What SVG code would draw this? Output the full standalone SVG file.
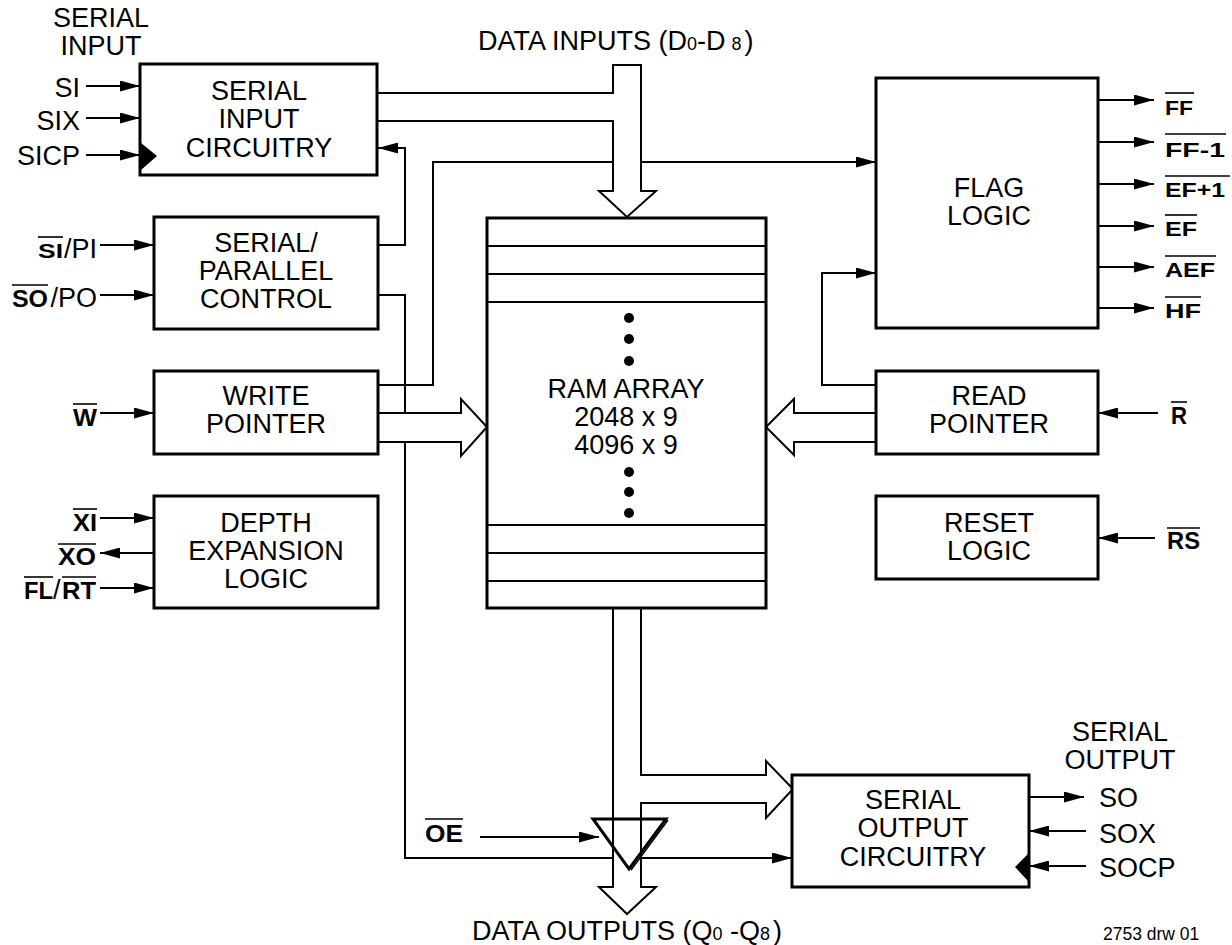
<svg xmlns="http://www.w3.org/2000/svg" width="1232" height="945" viewBox="0 0 1232 945">
<style>
text{font-family:"Liberation Sans",Arial,sans-serif;fill:#000}
.t{font-size:27px}
.c{font-size:27px;text-anchor:middle}
.e{font-size:27px;text-anchor:end}
.ov{font-size:24px;font-weight:bold}
.ovs{font-size:20px;font-weight:bold}
.box{fill:#fff;stroke:#000;stroke-width:3}
.ln{fill:none;stroke:#000;stroke-width:2}
.bus{fill:#fff;stroke:#000;stroke-width:2}
.ol{stroke:#000;stroke-width:1.6}
</style>
<defs>
<marker id="ah" markerUnits="userSpaceOnUse" markerWidth="20" markerHeight="11" refX="20" refY="5.5" orient="auto">
<path d="M0,0 L20,5.5 L0,11 z" fill="#000"/>
</marker>
</defs>
<rect width="1232" height="945" fill="#fff"/>

<g id="connectors">
<line class="ln" x1="86" y1="86" x2="140" y2="86" marker-end="url(#ah)"/>
<line class="ln" x1="86" y1="118" x2="140" y2="118" marker-end="url(#ah)"/>
<line class="ln" x1="86" y1="155" x2="140" y2="155" marker-end="url(#ah)"/>
<line class="ln" x1="100" y1="245" x2="154" y2="245" marker-end="url(#ah)"/>
<line class="ln" x1="100" y1="295" x2="154" y2="295" marker-end="url(#ah)"/>
<line class="ln" x1="100" y1="413" x2="154" y2="413" marker-end="url(#ah)"/>
<line class="ln" x1="100" y1="518" x2="154" y2="518" marker-end="url(#ah)"/>
<line class="ln" x1="154" y1="553" x2="100" y2="553" marker-end="url(#ah)"/>
<line class="ln" x1="100" y1="588" x2="154" y2="588" marker-end="url(#ah)"/>
<polyline class="ln" points="378,245 405,245 405,148 378,148" marker-end="url(#ah)"/>
<polyline class="ln" points="378,295 405,295 405,858 792,858" marker-end="url(#ah)"/>
<polyline class="ln" points="378,385 433,385 433,162 876,162" marker-end="url(#ah)"/>
<polyline class="ln" points="876,385 822,385 822,273 876,273" marker-end="url(#ah)"/>
<line class="ln" x1="1098" y1="100" x2="1154" y2="100" marker-end="url(#ah)"/>
<line class="ln" x1="1098" y1="142" x2="1154" y2="142" marker-end="url(#ah)"/>
<line class="ln" x1="1098" y1="184" x2="1154" y2="184" marker-end="url(#ah)"/>
<line class="ln" x1="1098" y1="226" x2="1154" y2="226" marker-end="url(#ah)"/>
<line class="ln" x1="1098" y1="267" x2="1154" y2="267" marker-end="url(#ah)"/>
<line class="ln" x1="1098" y1="308" x2="1154" y2="308" marker-end="url(#ah)"/>
<line class="ln" x1="1158" y1="413" x2="1098" y2="413" marker-end="url(#ah)"/>
<line class="ln" x1="1155" y1="538" x2="1098" y2="538" marker-end="url(#ah)"/>
<line class="ln" x1="1029" y1="797" x2="1084" y2="797" marker-end="url(#ah)"/>
<line class="ln" x1="1086" y1="831" x2="1029" y2="831" marker-end="url(#ah)"/>
<line class="ln" x1="1086" y1="866" x2="1029" y2="866" marker-end="url(#ah)"/>
<line class="ln" x1="480" y1="837" x2="599" y2="837" marker-end="url(#ah)"/>
<path class="bus" d="M377,93 L613,93 L613,65 L641,65 L641,191 L656,191 L627,217 L599,191 L613,191 L613,121 L377,121"/>
<path class="bus" d="M378,413 L461,413 L461,399 L487,427 L461,456 L461,442 L378,442"/>
<path class="bus" d="M876,413 L794,413 L794,399 L766,427 L794,455 L794,442 L876,442"/>
<path class="bus" d="M613,608 L613,887 L599,887 L627,914 L656,887 L641,887 L641,803 L766,803 L766,818 L793,789 L766,761 L766,775 L641,775 L641,608"/>
</g>

<g id="serial-input-circuitry">
<rect class="box" x="140" y="64" width="237" height="111"/>
<polygon points="141,143 157,156 141,170" fill="#000"/>
<text class="c" x="259" y="100">SERIAL<tspan x="259" dy="28">INPUT</tspan><tspan x="259" dy="29">CIRCUITRY</tspan></text>
</g>

<g id="serial-parallel-control">
<rect class="box" x="154" y="217" width="224" height="112"/>
<text class="c" x="266" y="252">SERIAL/<tspan x="266" dy="28">PARALLEL</tspan><tspan x="266" dy="28">CONTROL</tspan></text>
</g>

<g id="write-pointer">
<rect class="box" x="154" y="371" width="224" height="83"/>
<text class="c" x="266" y="405">WRITE<tspan x="266" dy="28">POINTER</tspan></text>
</g>

<g id="depth-expansion-logic">
<rect class="box" x="154" y="496" width="224" height="112"/>
<text class="c" x="266" y="532">DEPTH<tspan x="266" dy="28">EXPANSION</tspan><tspan x="266" dy="28">LOGIC</tspan></text>
</g>

<g id="ram-array">
<rect class="box" x="487" y="218" width="279" height="390"/>
<g class="ln">
<line x1="487" y1="246" x2="766" y2="246"/>
<line x1="487" y1="274" x2="766" y2="274"/>
<line x1="487" y1="302" x2="766" y2="302"/>
<line x1="487" y1="525" x2="766" y2="525"/>
<line x1="487" y1="553" x2="766" y2="553"/>
<line x1="487" y1="581" x2="766" y2="581"/>
</g>
<circle cx="629" cy="318" r="5"/>
<circle cx="629" cy="339" r="5"/>
<circle cx="629" cy="361" r="5"/>
<circle cx="629" cy="472" r="5"/>
<circle cx="629" cy="492" r="5"/>
<circle cx="629" cy="513" r="5"/>
<text class="c" x="626" y="398">RAM ARRAY<tspan x="626" dy="28">2048 x 9</tspan><tspan x="626" dy="28">4096 x 9</tspan></text>
</g>

<g id="flag-logic">
<rect class="box" x="876" y="78" width="222" height="250"/>
<text class="c" x="989" y="196.5">FLAG<tspan x="989" dy="28">LOGIC</tspan></text>
</g>

<g id="read-pointer">
<rect class="box" x="876" y="371" width="222" height="83"/>
<text class="c" x="989" y="405">READ<tspan x="989" dy="28">POINTER</tspan></text>
</g>

<g id="reset-logic">
<rect class="box" x="876" y="496" width="222" height="83"/>
<text class="c" x="989" y="531.5">RESET<tspan x="989" dy="28">LOGIC</tspan></text>
</g>

<g id="serial-output-circuitry">
<rect class="box" x="792" y="775" width="237" height="112"/>
<polygon points="1028,854 1015,867 1028,881" fill="#000"/>
<text class="c" x="913" y="809">SERIAL<tspan x="913" dy="28">OUTPUT</tspan><tspan x="913" dy="29">CIRCUITRY</tspan></text>
</g>

<g id="output-buffer">
<polygon points="593,819 666,819 629,869" fill="none" stroke="#000" stroke-width="3"/>
<line x1="668" y1="820" x2="631" y2="870" stroke="#000" stroke-width="1.5"/>
</g>

<g id="labels">
<text class="c" x="101" y="27">SERIAL<tspan x="101" dy="28">INPUT</tspan></text>
<text class="e" x="80" y="97">SI</text>
<text class="e" x="80" y="130">SIX</text>
<text class="e" x="80" y="165">SICP</text>

<text class="ovs" x="38" y="258" textLength="25" lengthAdjust="spacingAndGlyphs">SI</text>
<line class="ol" x1="38" y1="237" x2="63" y2="237"/>
<text class="e" x="97" y="258">/PI</text>

<text class="ov" x="12" y="307" textLength="36" lengthAdjust="spacingAndGlyphs">SO</text>
<line class="ol" x1="12" y1="285" x2="48" y2="285"/>
<text class="e" x="97" y="307">/PO</text>

<text class="ov" x="73" y="426" textLength="24" lengthAdjust="spacingAndGlyphs">W</text>
<line class="ol" x1="73" y1="404" x2="97" y2="404"/>

<text class="ov" x="73" y="531" textLength="24" lengthAdjust="spacingAndGlyphs">XI</text>
<line class="ol" x1="73" y1="509" x2="97" y2="509"/>

<text class="ov" x="58" y="565" textLength="38" lengthAdjust="spacingAndGlyphs">XO</text>
<line class="ol" x1="58" y1="544" x2="96" y2="544"/>

<text class="ov" x="24" y="599" textLength="29" lengthAdjust="spacingAndGlyphs">FL</text>
<line class="ol" x1="24" y1="577" x2="53" y2="577"/>
<text class="t" x="53" y="599">/</text>
<text class="ov" x="62" y="599" textLength="34" lengthAdjust="spacingAndGlyphs">RT</text>
<line class="ol" x1="62" y1="577" x2="96" y2="577"/>

<text class="ovs" x="1165" y="115" textLength="28" lengthAdjust="spacingAndGlyphs">FF</text>
<line class="ol" x1="1165" y1="93" x2="1194" y2="93"/>
<text class="ovs" x="1165" y="157" textLength="60" lengthAdjust="spacingAndGlyphs">FF-1</text>
<line class="ol" x1="1165" y1="134" x2="1226" y2="134"/>
<text class="ovs" x="1165" y="197" textLength="60" lengthAdjust="spacingAndGlyphs">EF+1</text>
<line class="ol" x1="1165" y1="176" x2="1230" y2="176"/>
<text class="ovs" x="1165" y="236" textLength="32" lengthAdjust="spacingAndGlyphs">EF</text>
<line class="ol" x1="1165" y1="215" x2="1197" y2="215"/>
<text class="ovs" x="1165" y="277" textLength="50" lengthAdjust="spacingAndGlyphs">AEF</text>
<line class="ol" x1="1165" y1="256" x2="1216" y2="256"/>
<text class="ovs" x="1165" y="318" textLength="36" lengthAdjust="spacingAndGlyphs">HF</text>
<line class="ol" x1="1165" y1="297" x2="1201" y2="297"/>

<text class="ov" x="1171" y="424" textLength="16" lengthAdjust="spacingAndGlyphs">R</text>
<line class="ol" x1="1171" y1="402" x2="1187" y2="402"/>

<text class="ov" x="1167" y="549" textLength="33" lengthAdjust="spacingAndGlyphs">RS</text>
<line class="ol" x1="1167" y1="528" x2="1200" y2="528"/>

<text class="ov" x="425" y="842" textLength="38" lengthAdjust="spacingAndGlyphs">OE</text>
<line class="ol" x1="425" y1="819" x2="463" y2="819"/>

<text class="t" x="478" y="50">DATA INPUTS (D<tspan font-size="18">0</tspan>-D<tspan font-size="18" dx="6">8</tspan><tspan dx="3">)</tspan></text>
<text class="t" x="472" y="940">DATA OUTPUTS (Q<tspan font-size="18">0</tspan> -Q<tspan font-size="18">8</tspan><tspan dx="3">)</tspan></text>

<text class="c" x="1120" y="740.5">SERIAL<tspan x="1120" dy="28">OUTPUT</tspan></text>
<text class="t" x="1099" y="807">SO</text>
<text class="t" x="1099" y="843">SOX</text>
<text class="t" x="1099" y="877">SOCP</text>

<text x="1103" y="940" font-size="17.5">2753 drw 01</text>
</g>
</svg>
